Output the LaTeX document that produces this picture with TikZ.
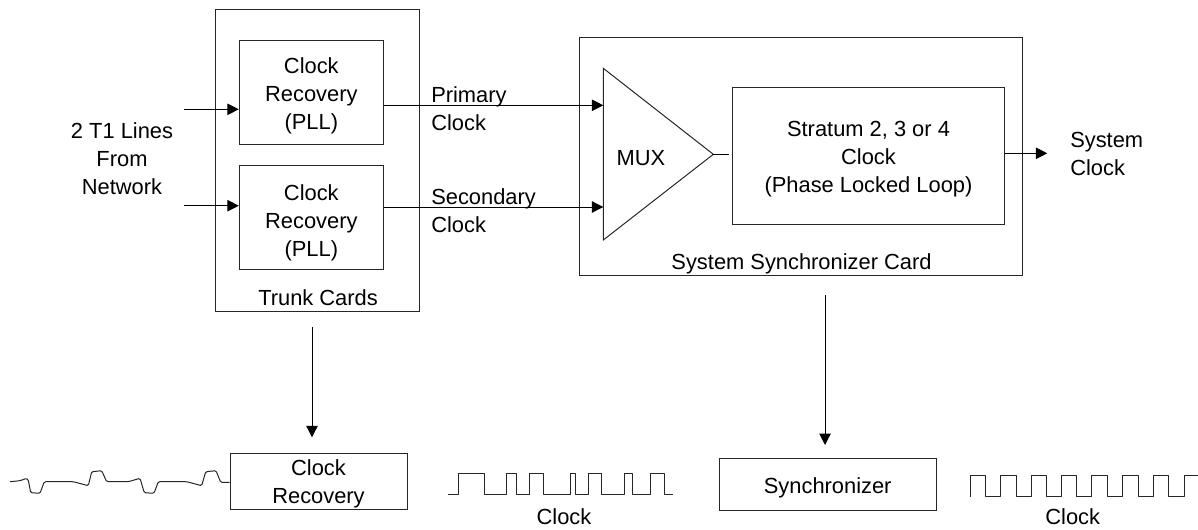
\documentclass[tikz,border=0pt]{standalone}
\usepackage{fontspec}
\setmainfont{Liberation Sans}
\usetikzlibrary{arrows.meta,calc}
\tikzset{
  box/.style={draw=black!85,line width=0.75pt,inner sep=0pt},
  lbl/.style={inner sep=0pt,align=center,font=\fontsize{16.4}{21}\selectfont},
  llbl/.style={lbl,align=left},
  arr/.style={line width=0.75pt,-{Triangle[length=8.5pt,width=8.5pt]}},
  wire/.style={line width=0.75pt},
  wave/.style={draw=black!85,line width=0.75pt,line join=round},
}
\begin{document}
\begin{tikzpicture}[x=0.75pt,y=-0.75pt]
\useasboundingbox (0,0) rectangle (1198,529);
% outer boxes
\node[box,minimum width=153pt,minimum height=226.5pt] (trunk) at (317.2,160) {};
\node[box,minimum width=332.5pt,minimum height=178.5pt] (sys) at (801.3,156.3) {};
% inner boxes
\node[box,minimum width=108pt,minimum height=78pt] (rec1) at (311.3,92.5) {};
\node[box,minimum width=108pt,minimum height=78pt] (rec2) at (311.3,217.5) {};
\node[lbl] (rec1t) at (311.3,96) {Clock\\Recovery\\(PLL)};
\node[lbl] (rec2t) at (311.3,222.5) {Clock\\Recovery\\(PLL)};
\node[box,minimum width=204.5pt,minimum height=102.5pt] (strat) at (868.5,156) {};
\node[lbl] (stratt) at (868.5,159.3) {Stratum 2, 3 or 4\\Clock\\(Phase Locked Loop)};
% MUX
\coordinate (mt) at (603.3,68.3);
\coordinate (mb) at (603.3,240);
\coordinate (mo) at (713.3,154.3);
\draw[wire,draw=black!85,line join=miter] (mt) -- (mo) -- (mb) -- cycle;
\node[lbl] (mux) at (641,158.5) {MUX};
\coordinate (mi1) at (603.3,105.3);
\coordinate (mi2) at (603.3,207);
\coordinate (mout) at (729,154.3);
\draw[wire] (mo) -- (mout);
% inputs
\coordinate (in1) at (184,109.3);
\coordinate (in2) at (184,205.7);
\draw[arr] (in1) -- (rec1.west |- in1);
\draw[arr] (in2) -- (rec2.west |- in2);
\draw[arr] (rec1.east |- mi1) -- (mi1);
\draw[arr] (rec2.east |- mi2) -- (mi2);
\coordinate (so) at (1047.3,153.3);
\draw[arr] (strat.east |- so) -- (so);
% labels
\node[lbl] (lines) at (122,158.5) {2 T1 Lines\\From\\Network};
\node[llbl,anchor=west] (prim) at (431,109) {Primary\\Clock};
\node[llbl,anchor=west] (sec) at (431,210.5) {Secondary\\Clock};
\node[llbl,anchor=west] (sysclk) at (1070,154) {System\\Clock};
\node[lbl] (tc) at (318,298) {Trunk Cards};
\node[lbl] (ssc) at (801.5,264) {System Synchronizer Card};
% bottom
\node[box,minimum width=132.75pt,minimum height=41.5pt] (cr) at (318.5,481.5) {};
\node[lbl] (crt) at (318.5,484) {Clock\\Recovery};
\node[box,minimum width=162.5pt,minimum height=38.75pt] (syn) at (827.7,484.5) {};
\node[lbl] (synt) at (827.7,488.3) {Synchronizer};
\coordinate (d1) at (312,327.3);
\coordinate (d1e) at (312,437.3);
\coordinate (d2) at (825,295);
\coordinate (d2e) at (825,445);
\draw[arr] (d1) -- (d1e);
\draw[arr] (d2) -- (d2e);
% waveforms
\draw[wave,rounded corners=1pt] (10,481.7) -- (20,480.7) -- (26.7,478.3) -- (28.3,480) -- (30.7,492.7) -- (40,493.3) -- (44.3,481.7) -- (73.3,481.7) -- (88.3,485.7) -- (91.7,471.7) -- (101.7,470.7) -- (106.7,481.7) -- (128.3,481.7) -- (140,478.3) -- (144.3,492.7) -- (154,493.3) -- (158.3,481.7) -- (186.7,481.7) -- (201.7,485.7) -- (205.7,471.7) -- (216,470.7) -- (220.7,482.3) -- (cr.west |- 0,482.3);
\draw[wave] (448,494.3) -| (458.3,473) -| (484.3,494.3) -| (506.7,473) -| (516,494.3) -| (529.3,473) -| (543.3,494.3) -| (570,473) -| (575,494.3) -| (588.3,473) -| (601.7,494.3) -| (624,473) -| (632.7,494.3) -| (650.7,473) -| (664,494.3) -- (673,494.3);
\draw[wave] (970,496.7) |- (985.7,475) |- (1000.7,496.7) |- (1016,475) |- (1031,496.7) |- (1046.7,475) |- (1061.7,496.7) |- (1076.7,475) |- (1091.7,496.7) |- (1107,475) |- (1122.7,496.7) |- (1138,475) |- (1153,496.7) |- (1168,475) |- (1184,496.7) |- (1198,475);
\node[lbl] (ck1) at (564,517) {Clock};
\node[lbl] (ck2) at (1072.7,517) {Clock};
\end{tikzpicture}
\end{document}
